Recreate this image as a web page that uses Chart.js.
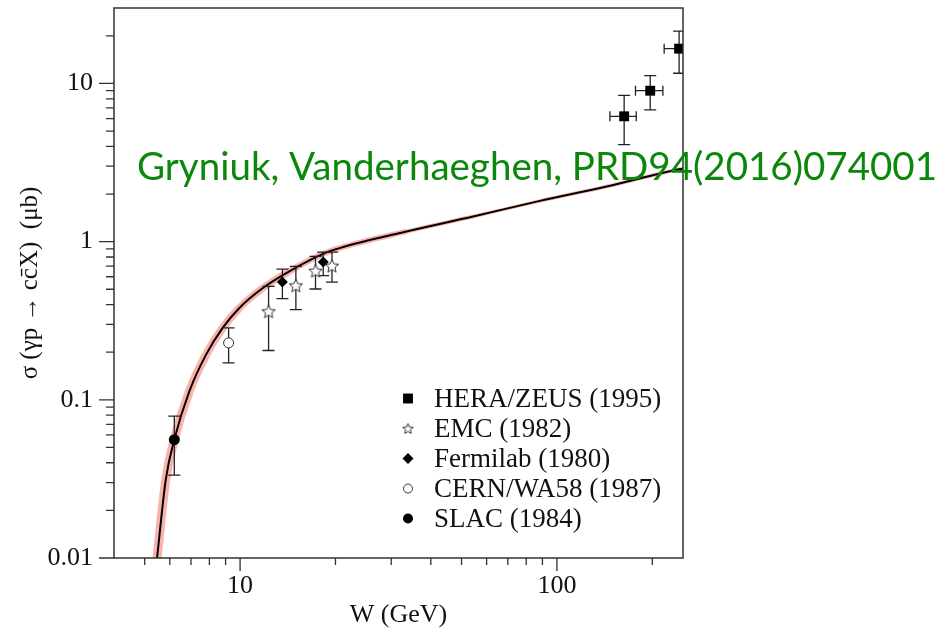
<!DOCTYPE html>
<html lang="en">
<head>
  <meta charset="UTF-8" />
  <title>Open charm photoproduction</title>
  <script src="https://cdn.jsdelivr.net/npm/chart.js"></script>
  <style>
    html, body { margin: 0; padding: 0; background: #fff; }
    #wrap { position: relative; width: 950px; height: 636px; }
  </style>
</head>
<body>
  <div id="wrap"><canvas id="xsec" width="950" height="636"></canvas></div>

  <script>
    // W in GeV, sigma in microbarn
    const heraW = [163, 197, 243];
    const heraSigma = [6.2, 9.0, 16.6];
    const heraSigmaLow = [4.1, 6.8, 11.6];
    const heraSigmaHigh = [8.4, 11.2, 21.4];
    const heraWLow = [147, 177, 218];
    const heraWHigh = [178, 216, 270];

    const emcW = [12.3, 15.0, 17.3, 19.5];
    const emcSigma = [0.363, 0.529, 0.655, 0.705];
    const emcSigmaLow = [0.205, 0.372, 0.502, 0.555];
    const emcSigmaHigh = [0.522, 0.697, 0.806, 0.859];

    const fnalW = [13.6, 18.3];
    const fnalSigma = [0.555, 0.743];
    const fnalSigmaLow = [0.436, 0.609];
    const fnalSigmaHigh = [0.671, 0.859];

    const cernW = [9.2];
    const cernSigma = [0.229];
    const cernSigmaLow = [0.171];
    const cernSigmaHigh = [0.285];

    const slacW = [6.2];
    const slacSigma = [0.056];
    const slacSigmaLow = [0.0334];
    const slacSigmaHigh = [0.0789];

    // model curve
    const curveW = [5.40, 5.47, 5.83, 6.20, 6.92, 7.81, 8.81, 9.95, 11.8, 14.3, 18.2, 20.6, 33.5, 54.4, 88.4, 143.5, 245, 250];
    const curveSigma = [0.0079, 0.0100, 0.0315, 0.0562, 0.1135, 0.193, 0.285, 0.381, 0.509, 0.649, 0.834, 0.910, 1.16, 1.443, 1.81, 2.23, 2.88, 2.90];

    const xLabelTicks = [10, 100];
    const yLabelTicks = [0.01, 0.1, 1, 10];
    const xMinorTicks = [5, 6, 7, 8, 9, 20, 30, 40, 50, 60, 70, 80, 90, 200];
    const yMinorTicks = [0.02, 0.03, 0.04, 0.05, 0.06, 0.07, 0.08, 0.09,
                         0.2, 0.3, 0.4, 0.5, 0.6, 0.7, 0.8, 0.9,
                         2, 3, 4, 5, 6, 7, 8, 9, 20];

    const serif = "'Liberation Serif', 'DejaVu Serif', serif";
    const ink = '#222';

    const pts = (xs, ys) => xs.map((x, i) => ({ x: x, y: ys[i] }));

    // open five-pointed star marker
    function makeStar(r) {
      const c = document.createElement('canvas');
      const s = Math.ceil(r * 2 + 4);
      c.width = c.height = s;
      const g = c.getContext('2d');
      g.translate(s / 2, s / 2 + r * 0.1);
      g.beginPath();
      for (let i = 0; i < 10; i++) {
        const rad = i % 2 === 0 ? r : r * 0.45;
        const a = -Math.PI / 2 + i * Math.PI / 5;
        g.lineTo(rad * Math.cos(a), rad * Math.sin(a));
      }
      g.closePath();
      g.fillStyle = '#fff';
      g.fill();
      g.strokeStyle = '#333';
      g.lineWidth = 1;
      g.stroke();
      return c;
    }
    const star = makeStar(7);
    const legendStar = makeStar(5.5);

    // uncertainty band gets narrower towards high W
    function bandWidth(w) {
      const t = Math.log(w / 6) / Math.log(40 / 6);
      return Math.max(3.5, Math.min(9, 9 - 5.5 * t));
    }

    const datasets = [
      {
        label: 'HERA/ZEUS (1995)', data: pts(heraW, heraSigma),
        yLow: heraSigmaLow, yHigh: heraSigmaHigh, xLow: heraWLow, xHigh: heraWHigh,
        pointStyle: 'rect', pointRadius: 7, backgroundColor: '#000', borderColor: '#000', borderWidth: 0,
        legendStyle: 'rect', legendRadius: 7, order: 0
      },
      {
        label: 'EMC (1982)', data: pts(emcW, emcSigma),
        yLow: emcSigmaLow, yHigh: emcSigmaHigh,
        pointStyle: star, pointRadius: 7, backgroundColor: '#fff', borderColor: '#333', borderWidth: 1,
        legendStyle: legendStar, legendRadius: 5.5, order: 1
      },
      {
        label: 'Fermilab (1980)', data: pts(fnalW, fnalSigma),
        yLow: fnalSigmaLow, yHigh: fnalSigmaHigh,
        pointStyle: 'rectRot', pointRadius: 5.5, backgroundColor: '#000', borderColor: '#000', borderWidth: 0,
        legendStyle: 'rectRot', legendRadius: 5.5, order: 2
      },
      {
        label: 'CERN/WA58 (1987)', data: pts(cernW, cernSigma),
        yLow: cernSigmaLow, yHigh: cernSigmaHigh,
        pointStyle: 'circle', pointRadius: 5, backgroundColor: '#fff', borderColor: '#333', borderWidth: 1,
        legendStyle: 'circle', legendRadius: 4.5, order: 3
      },
      {
        label: 'SLAC (1984)', data: pts(slacW, slacSigma),
        yLow: slacSigmaLow, yHigh: slacSigmaHigh,
        pointStyle: 'circle', pointRadius: 5.5, backgroundColor: '#000', borderColor: '#000', borderWidth: 0,
        legendStyle: 'circle', legendRadius: 5, order: 4
      },
      {
        id: 'band', data: pts(curveW, curveSigma), type: 'line', showLine: true,
        borderColor: 'rgba(246, 128, 116, 0.6)', borderWidth: 8, pointRadius: 0,
        cubicInterpolationMode: 'monotone', order: 11,
        segment: { borderWidth: c => bandWidth(c.p0.parsed.x) }
      },
      {
        id: 'curve', data: pts(curveW, curveSigma), type: 'line', showLine: true,
        borderColor: '#000', borderWidth: 2, pointRadius: 0,
        cubicInterpolationMode: 'monotone', order: 10
      }
    ];

    // error bars, drawn right after the model curve so markers sit on top
    const errorBars = {
      id: 'errorBars',
      afterDatasetDraw(chart, args) {
        if (chart.data.datasets[args.index].id !== 'curve') return;
        const { ctx, chartArea: a, scales: { x, y } } = chart;
        ctx.save();
        ctx.beginPath();
        ctx.rect(a.left, a.top, a.right - a.left, a.bottom - a.top);
        ctx.clip();
        ctx.strokeStyle = ink;
        ctx.lineWidth = 1.3;
        chart.data.datasets.forEach(ds => {
          if (!ds.yLow) return;
          ds.data.forEach((p, i) => {
            const px = x.getPixelForValue(p.x);
            const py = y.getPixelForValue(p.y);
            const y1 = y.getPixelForValue(ds.yLow[i]);
            const y2 = y.getPixelForValue(ds.yHigh[i]);
            ctx.beginPath();
            ctx.moveTo(px, y1); ctx.lineTo(px, y2);
            ctx.moveTo(px - 6, y1); ctx.lineTo(px + 6, y1);
            ctx.moveTo(px - 6, y2); ctx.lineTo(px + 6, y2);
            if (ds.xLow) {
              const x1 = x.getPixelForValue(ds.xLow[i]);
              const x2 = x.getPixelForValue(ds.xHigh[i]);
              ctx.moveTo(x1, py); ctx.lineTo(x2, py);
              ctx.moveTo(x1, py - 5); ctx.lineTo(x1, py + 5);
              ctx.moveTo(x2, py - 5); ctx.lineTo(x2, py + 5);
            }
            ctx.stroke();
          });
        });
        ctx.restore();
      }
    };

    // frame, outward tick marks, legend and the reference note
    const decorations = {
      id: 'decorations',
      afterDraw(chart) {
        const { ctx, chartArea: a, scales: { x, y } } = chart;
        ctx.save();
        ctx.strokeStyle = '#333';
        ctx.lineWidth = 1.5;
        ctx.strokeRect(a.left, a.top, a.right - a.left, a.bottom - a.top);

        ctx.beginPath();
        xLabelTicks.forEach(v => { const p = x.getPixelForValue(v); ctx.moveTo(p, a.bottom); ctx.lineTo(p, a.bottom + 13); });
        xMinorTicks.forEach(v => { const p = x.getPixelForValue(v); ctx.moveTo(p, a.bottom); ctx.lineTo(p, a.bottom + 7); });
        yLabelTicks.forEach(v => { const p = y.getPixelForValue(v); ctx.moveTo(a.left, p); ctx.lineTo(a.left - 15, p); });
        yMinorTicks.forEach(v => { const p = y.getPixelForValue(v); ctx.moveTo(a.left, p); ctx.lineTo(a.left - 8, p); });
        ctx.lineWidth = 1.3;
        ctx.stroke();

        // legend
        const lx = 408, tx = 434, top = 398.5, step = 30;
        ctx.font = '27px ' + serif;
        ctx.textBaseline = 'middle';
        ctx.textAlign = 'left';
        chart.data.datasets.filter(d => d.label).forEach((d, i) => {
          const ly = top + i * step;
          ctx.fillStyle = d.backgroundColor;
          ctx.strokeStyle = d.borderColor;
          ctx.lineWidth = d.borderWidth;
          Chart.helpers.drawPoint(ctx, { pointStyle: d.legendStyle, radius: d.legendRadius, rotation: 0, borderWidth: d.borderWidth }, lx, ly);
          ctx.fillStyle = '#111';
          ctx.fillText(d.label, tx, ly + 1);
        });

        // reference note
        const note = 'Gryniuk, Vanderhaeghen, PRD94(2016)074001';
        ctx.font = '38px Lato, "Open Sans", sans-serif';
        const w = ctx.measureText(note).width;
        ctx.translate(137, 179.5);
        ctx.scale(800 / w, 1);
        ctx.fillStyle = '#0b880b';
        ctx.textBaseline = 'alphabetic';
        ctx.fillText(note, 0, 0);
        ctx.restore();
      }
    };

    const tickFont = { family: serif, size: 26 };

    new Chart(document.getElementById('xsec').getContext('2d'), {
      type: 'scatter',
      data: { datasets },
      plugins: [errorBars, decorations],
      options: {
        responsive: false,
        animation: false,
        layout: { padding: { left: 0, right: 267, top: 7, bottom: 0 } },
        plugins: { legend: { display: false }, tooltip: { enabled: false } },
        scales: {
          x: {
            type: 'logarithmic', min: 4, max: 250,
            afterFit: s => { s.height = 78; s.paddingLeft = 0; s.paddingRight = 0; },
            afterBuildTicks: s => { s.ticks = xLabelTicks.map(v => ({ value: v })); },
            ticks: { callback: v => String(v), font: tickFont, color: '#111', maxRotation: 0, autoSkip: false, padding: 1 },
            grid: { display: true, drawOnChartArea: false, drawTicks: true, tickLength: 12, tickColor: 'rgba(0,0,0,0)' },
            border: { display: false },
            title: { display: true, text: 'W (GeV)', font: { family: serif, size: 26 }, color: '#111', padding: { top: 0, bottom: 5 } }
          },
          y: {
            type: 'logarithmic', min: 0.01, max: 30,
            afterFit: s => { s.width = 114; s.paddingTop = 0; s.paddingBottom = 0; },
            afterBuildTicks: s => { s.ticks = yLabelTicks.map(v => ({ value: v })); },
            ticks: { callback: v => String(v), font: tickFont, color: '#111', autoSkip: false, padding: 6 },
            grid: { display: true, drawOnChartArea: false, drawTicks: true, tickLength: 15, tickColor: 'rgba(0,0,0,0)' },
            border: { display: false },
            title: { display: true, text: 'σ (γp → cc̄X)  (μb)', font: { family: serif, size: 25 }, color: '#111', padding: { top: 15, bottom: 0 } }
          }
        }
      }
    });
  </script>
</body>
</html>
